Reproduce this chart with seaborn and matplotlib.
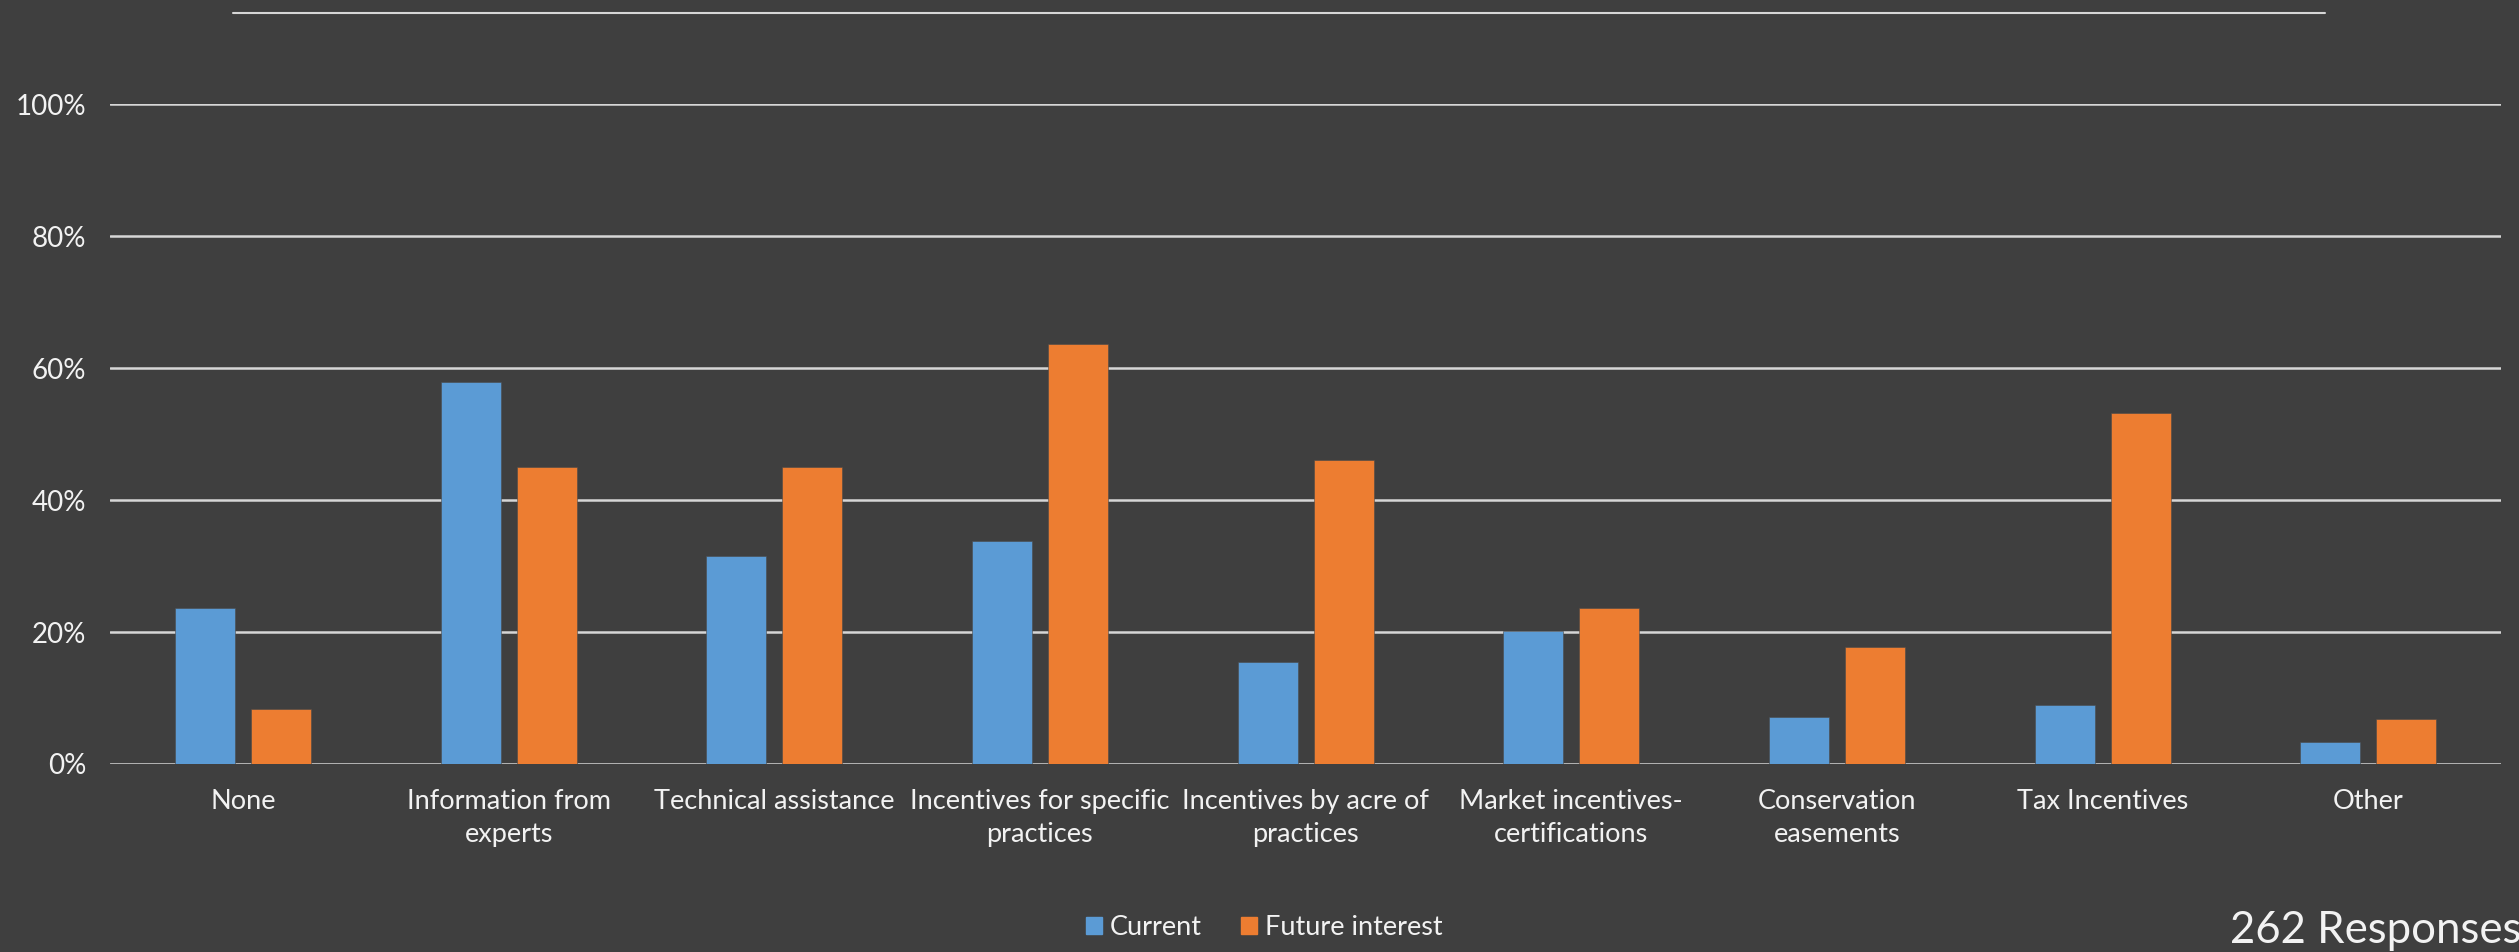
import pandas as pd
import matplotlib.pyplot as plt
import matplotlib.ticker as mtick
import seaborn as sns

categories = ["None", "Information from\nexperts", "Technical assistance",
              "Incentives for specific\npractices", "Incentives by acre of\npractices",
              "Market incentives-\ncertifications", "Conservation\neasements",
              "Tax Incentives", "Other"]
current = [0.236, 0.579, 0.316, 0.338, 0.155, 0.202, 0.071, 0.089, 0.034]
future = [0.083, 0.450, 0.450, 0.637, 0.461, 0.236, 0.178, 0.532, 0.068]
series = ["Current", "Future interest"]
colors = ["#5B9BD5", "#ED7D31"]
note = "262 Responses"

BG = "#3F3F3F"
TXT = "#F2F2F2"

df = pd.DataFrame({
    "category": categories * 2,
    "value": current + future,
    "series": [series[0]] * len(categories) + [series[1]] * len(categories),
})

sns.set_style("white")
plt.rcParams["font.family"] = ["Lato", "DejaVu Sans"]

fig = plt.figure(figsize=(25.19, 9.52), dpi=100, facecolor=BG)
ax = fig.add_axes([0.0437, 0.1975, 0.9492, 0.6928])
ax.set_facecolor(BG)

sns.barplot(data=df, x="category", y="value", hue="series", palette=colors,
            saturation=1, width=0.572, gap=0.21, ax=ax, legend=False,
            zorder=3, edgecolor="#4a4a4a", linewidth=0.4)

ax.set_ylim(0, 1.0)
ax.set_xlim(-0.5, len(categories) - 0.5)
ax.yaxis.set_major_locator(mtick.MultipleLocator(0.2))
ax.yaxis.set_major_formatter(mtick.PercentFormatter(1.0, decimals=0))
ax.grid(axis="y", color="#D6D6D6", linewidth=1.8, zorder=0)
ax.set_axisbelow(True)
for s in ax.spines.values():
    s.set_visible(False)
ax.set_xlabel("")
ax.set_ylabel("")
ax.tick_params(axis="both", length=0, colors=TXT)
ax.tick_params(axis="y", pad=17, labelsize=20)
ax.tick_params(axis="x", pad=18, labelsize=19.5)
for lbl in ax.get_xticklabels():
    lbl.set_linespacing(1.4)

# thin line at the top of the chart
fig.add_artist(plt.Line2D([0.0925, 0.923], [0.986, 0.986], color="#D6D6D6",
                          linewidth=1.5, transform=fig.transFigure))

handles = [plt.Rectangle((0, 0), 1, 1, color=c) for c in colors]
fig.legend(handles, series, loc="center", bbox_to_anchor=(0.502, 0.026),
           ncol=2, frameon=False, fontsize=19.5, labelcolor=TXT,
           handlelength=0.59, handleheight=0.59, handletextpad=0.3,
           columnspacing=1.45)

fig.text(0.8853, 0.0095, note, color=TXT, fontsize=31.5, ha="left", va="baseline")

fig.savefig("out.png", dpi=100, facecolor=BG)
plt.close(fig)
